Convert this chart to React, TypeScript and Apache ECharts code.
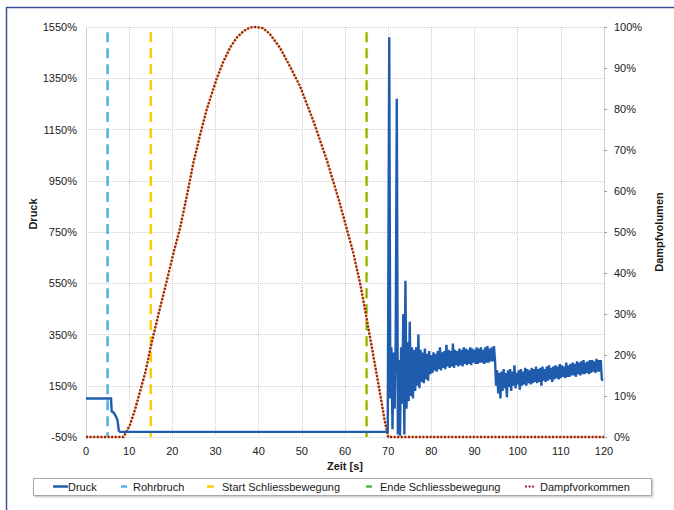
import React, { useEffect, useRef } from "react";
import * as echarts from "echarts";

// ---------- data ----------
const FONT = "'Liberation Sans', Arial, sans-serif";

// Druck: initial phase (time s, value %)
const druckHeadT = [0, 5.8, 5.95, 6.4, 6.9, 7.3, 7.6, 7.9, 69.9];
const druckHeadV = [100, 100, 50, 45, 32, 15, -25, -30, -30];

// Druck: oscillating phase, sampled every 0.25 s from 70 s
const druckOscStart = 70;
const druckOscStep = 0.25;
const druckOscV = [
  -30, 1510, 100, 300,
  -20, 280, 60, 330,
  1270, -40, 250, -45,
  300, 80, 430, -40,
  560, 60, 320, 90,
  400, 110, 300, 100,
  290, 130, 300, 150,
  350, 140, 290, 165,
  280, 160, 295, 175,
  275, 170, 285, 195,
  270, 200, 280, 210,
  275, 205, 285, 215,
  300, 210, 280, 220,
  285, 215, 310, 225,
  290, 220, 285, 225,
  315, 220, 290, 230,
  285, 225, 295, 230,
  290, 225, 300, 235,
  295, 230, 290, 235,
  300, 230, 295, 240,
  290, 235, 300, 235,
  295, 240, 300, 240,
  290, 235, 300, 240,
  305, 240, 295, 245,
  300, 245, 305, 250,
  150, 210, 120, 200,
  100, 205, 130, 215,
  140, 200, 105, 210,
  145, 215, 130, 205,
  150, 230, 140, 200,
  155, 210, 135, 215,
  150, 205, 155, 220,
  150, 215, 160, 210,
  155, 220, 160, 215,
  165, 225, 160, 215,
  165, 220, 150, 225,
  170, 215, 165, 225,
  170, 230, 175, 220,
  165, 225, 175, 230,
  180, 225, 175, 235,
  180, 230, 185, 225,
  180, 240, 185, 230,
  185, 235, 190, 240,
  190, 235, 185, 245,
  195, 240, 190, 245,
  195, 250, 195, 240,
  200, 245, 195, 250,
  200, 250, 205, 245,
  200, 255, 205, 250,
  205, 250, 175, 170,
];

// Dampfvorkommen (time s, value % on right axis)
const dampfT = [0, 8.7, 10.2, 11.3, 12.5, 13.8, 15, 16.8, 18.7, 20.3, 21.8, 23.4, 24.9, 26.5, 28, 30.3, 31.8, 33.4, 35, 36.5, 38, 39.5, 41, 42.5, 44.9, 47.2, 49.6, 52.7, 55.8, 58.8, 61.9, 63.5, 65, 66.2, 67.3, 68.3, 69.2, 70, 120];
const dampfV = [0, 0, 3, 6.5, 11, 16, 22, 30, 38, 45, 51, 59, 67, 74, 80, 87.5, 91.5, 95, 97.5, 99, 99.9, 100, 99.7, 98.4, 95, 90.5, 85.5, 77, 67.5, 57, 45, 37.5, 29, 22, 15.5, 9.5, 4, 0, 0];

// event markers (time s)
const rohrbruchT = 5;
const startT = 15;
const endeT = 65;
const markerRange = [1530, -50];

const legendNames = ["Druck", "Rohrbruch", "Start Schliessbewegung", "Ende Schliessbewegung", "Dampfvorkommen"];

// ---------- colours ----------
const C_DRUCK = "#1f5cae";
const C_ROHR = "#4fb0e3";
const C_START = "#ffcc00";
const C_ENDE = "#5bb548";
const C_DAMPF = "#9a1b2e";
const C_DAMPF_UNDER = "#f2c23a";

export default function App() {
  const ref = useRef<HTMLDivElement>(null);

  useEffect(() => {
    if (!ref.current) return;
    const chart = echarts.init(ref.current, undefined, { renderer: "svg" });

    const druckData: number[][] = druckHeadT.map((t, i) => [t, druckHeadV[i]]);
    druckOscV.forEach((v, i) => druckData.push([druckOscStart + i * druckOscStep, v]));
    const dampfData = dampfT.map((t, i) => [t, dampfV[i]]);
    const vline = (t: number) => markerRange.map((v) => [t, v]);
    const pct = (v: number) => `${v}%`;

    const textStyle = { fontFamily: FONT, fontSize: 11, color: "#1a1a1a" };

    const legendY = 486.5;
    const legendGraphic: any[] = [
      {
        type: "rect",
        shape: { x: 33.5, y: 478.5, width: 618, height: 17 },
        style: { fill: "#fff", stroke: "#a8a8a8", lineWidth: 1, shadowBlur: 2, shadowOffsetX: 1, shadowOffsetY: 1, shadowColor: "rgba(0,0,0,0.25)" },
      },
      { type: "line", shape: { x1: 53, y1: legendY, x2: 68, y2: legendY }, style: { stroke: C_DRUCK, lineWidth: 2.5 } },
      { type: "line", shape: { x1: 121, y1: legendY, x2: 127, y2: legendY }, style: { stroke: C_ROHR, lineWidth: 2.5 } },
      { type: "line", shape: { x1: 207, y1: legendY, x2: 214, y2: legendY }, style: { stroke: C_START, lineWidth: 2.5 } },
      { type: "line", shape: { x1: 366, y1: legendY, x2: 372, y2: legendY }, style: { stroke: C_ENDE, lineWidth: 2.5 } },
      { type: "line", shape: { x1: 525, y1: legendY, x2: 534, y2: legendY }, style: { stroke: C_DAMPF, lineWidth: 2.2, lineDash: [2, 1.6] } },
    ];
    const legendTextX = [68, 133, 222, 380, 540];
    legendNames.forEach((n, i) => {
      legendGraphic.push({
        type: "text",
        x: legendTextX[i],
        y: legendY,
        style: { text: n, font: `11px ${FONT}`, fill: "#1a1a1a", align: "left", verticalAlign: "middle" },
      });
    });

    chart.setOption({
      animation: false,
      backgroundColor: "#ffffff",
      grid: { left: 86, right: 70, top: 27, bottom: 73, containLabel: false },
      xAxis: {
        type: "value",
        min: 0,
        max: 120,
        interval: 10,
        name: "Zeit [s]",
        nameLocation: "middle",
        nameGap: 23,
        nameTextStyle: { ...textStyle, fontWeight: "bold" },
        axisLabel: { ...textStyle, margin: 8 },
        axisLine: { show: false },
        axisTick: { show: false },
        splitLine: { show: true, lineStyle: { color: "#cfcfcf", type: "dotted", width: 1 } },
      },
      yAxis: [
        {
          type: "value",
          min: -50,
          max: 1550,
          interval: 200,
          axisLabel: { ...textStyle, margin: 9, formatter: pct },
          axisLine: { show: true, lineStyle: { color: "#cfcfcf", type: "dotted" } },
          axisTick: { show: false },
          splitLine: { show: true, lineStyle: { color: "#cfcfcf", type: "dotted", width: 1 } },
        },
        {
          type: "value",
          position: "right",
          min: 0,
          max: 100,
          interval: 10,
          name: "Dampfvolumen",
          nameLocation: "middle",
          nameRotate: 90,
          nameGap: 44,
          nameTextStyle: { ...textStyle, fontWeight: "bold" },
          axisLabel: { ...textStyle, margin: 10, formatter: pct },
          axisLine: { show: true, lineStyle: { color: "#cfcfcf", type: "dotted" } },
          axisTick: { show: true, length: 3, lineStyle: { color: "#999" } },
          splitLine: { show: false },
        },
      ],
      graphic: [
        {
          type: "rect",
          shape: { x: 6.5, y: 7.5, width: 720, height: 540 },
          style: { fill: "none", stroke: "#3e519c", lineWidth: 1.5 },
          silent: true,
        },
        {
          type: "text",
          x: 33,
          y: 214,
          rotation: Math.PI / 2,
          style: { text: "Druck", font: `bold 11px ${FONT}`, fill: "#1a1a1a", align: "center", verticalAlign: "middle" },
        },
        ...legendGraphic,
      ],
      series: [
        {
          name: "Rohrbruch",
          type: "line",
          data: vline(rohrbruchT),
          showSymbol: false,
          lineStyle: { color: C_ROHR, width: 2.5, type: [10, 6] },
        },
        {
          name: "Start Schliessbewegung",
          type: "line",
          data: vline(startT),
          showSymbol: false,
          lineStyle: { color: C_START, width: 2.5, type: [10, 6] },
        },
        {
          name: "Ende Schliessbewegung (Hintergrund)",
          type: "line",
          data: vline(endeT),
          showSymbol: false,
          lineStyle: { color: C_START, width: 3, type: [10, 6] },
        },
        {
          name: "Ende Schliessbewegung",
          type: "line",
          data: vline(endeT),
          showSymbol: false,
          lineStyle: { color: C_ENDE, width: 1.4, type: [10, 6] },
        },
        {
          name: "Dampfvorkommen (Hintergrund)",
          type: "line",
          yAxisIndex: 1,
          data: dampfData,
          showSymbol: false,
          clip: false,
          lineStyle: { color: C_DAMPF_UNDER, width: 1.6 },
        },
        {
          name: "Dampfvorkommen",
          type: "line",
          yAxisIndex: 1,
          data: dampfData,
          showSymbol: false,
          clip: false,
          lineStyle: { color: C_DAMPF, width: 2.4, type: [2, 1.6] },
        },
        {
          name: "Druck",
          type: "line",
          data: druckData,
          showSymbol: false,
          lineStyle: { color: C_DRUCK, width: 2.4, join: "miter" },
        },
      ],
    });

    return () => chart.dispose();
  }, []);

  return (
    <div
      ref={ref}
      style={{ position: "fixed", left: 0, top: 0, width: 674, height: 510, background: "#fff" }}
    />
  );
}
